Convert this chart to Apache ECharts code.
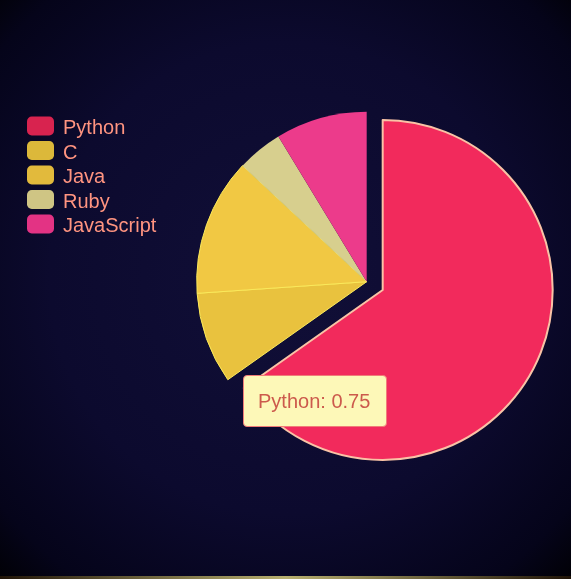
<!DOCTYPE html>
<html>
<head>
<meta charset="utf-8">
<script src="https://cdn.jsdelivr.net/npm/echarts@6/dist/echarts.min.js"></script>
<style>
  html, body { margin: 0; padding: 0; background: #000; }
  #chart { width: 571px; height: 579px; }
</style>
</head>
<body>
<div id="chart"></div>
<script>
const categories = ['Python', 'C', 'Java', 'Ruby', 'JavaScript'];
const values = [0.75, 0.1, 0.15, 0.05, 0.1];
const colors = ['#f22a5c', '#e9c23e', '#f1c843', '#d7cf8e', '#ec3b8b'];
const legendColors = ['#d8234f', '#dcb83a', '#e2ba3c', '#cfc584', '#e33384'];

const chart = echarts.init(document.getElementById('chart'), null, { renderer: 'canvas' });

const data = categories.map((name, i) => {
  const item = { name: name, value: values[i], itemStyle: { color: colors[i] } };
  if (i === 0) {
    item.selected = true;
    item.itemStyle.borderColor = '#f9c3a6';
    item.itemStyle.borderWidth = 2;
  }
  if (i === 1 || i === 2) {
    item.itemStyle.borderColor = '#fbe95a';
    item.itemStyle.borderWidth = 1;
  }
  return item;
});

chart.setOption({
  animation: false,
  backgroundColor: {
    type: 'radial', x: 0.5, y: 0.48, r: 0.75,
    colorStops: [
      { offset: 0, color: '#110f38' },
      { offset: 0.55, color: '#0c0a2e' },
      { offset: 0.85, color: '#05041a' },
      { offset: 1, color: '#000000' }
    ]
  },
  legend: {
    orient: 'vertical',
    left: 27,
    top: 113.5,
    padding: 0,
    itemWidth: 27,
    itemHeight: 19,
    itemGap: -0.5,
    icon: 'roundRect',
    selectedMode: false,
    itemStyle: { borderWidth: 0 },
    data: categories.map((name, i) => ({
      name: name,
      itemStyle: { color: legendColors[i], borderWidth: 0 }
    })),
    formatter: function (name) { return '{a|' + name + '}'; },
    textStyle: {
      color: '#ff9480',
      fontSize: 20,
      fontFamily: 'Liberation Sans, Arial, sans-serif',
      rich: {
        a: {
          color: '#ff9480',
          fontSize: 20,
          fontFamily: 'Liberation Sans, Arial, sans-serif',
          lineHeight: 19,
          padding: [5, 0, 0, 4]
        }
      }
    }
  },
  tooltip: {
    trigger: 'item',
    triggerOn: 'none',
    alwaysShowContent: true,
    position: [243, 375],
    formatter: '{b}: {c}',
    backgroundColor: '#fdf8b8',
    borderColor: '#f07c78',
    borderWidth: 1.5,
    padding: [13, 16, 13, 14],
    textStyle: {
      color: '#cc5a4c',
      fontSize: 20,
      fontFamily: 'Liberation Sans, Arial, sans-serif'
    },
    extraCssText: 'box-shadow:none;border-radius:4px;line-height:24px;'
  },
  graphic: [{
    type: 'rect',
    left: 0, bottom: 0,
    shape: { width: 571, height: 3 },
    style: {
      fill: {
        type: 'linear', x: 0, y: 0, x2: 1, y2: 0,
        colorStops: [
          { offset: 0, color: '#201408' },
          { offset: 0.5, color: '#b8b070' },
          { offset: 1, color: '#201408' }
        ]
      }
    },
    silent: true
  }],
  series: [{
    type: 'pie',
    center: [366.7, 281.7],
    radius: 170,
    startAngle: 90,
    clockwise: true,
    selectedMode: 'single',
    selectedOffset: 18,
    label: { show: false },
    labelLine: { show: false },
    emphasis: { scale: false, disabled: true },
    data: data
  }]
});

chart.dispatchAction({ type: 'showTip', seriesIndex: 0, dataIndex: 0 });
</script>
</body>
</html>
